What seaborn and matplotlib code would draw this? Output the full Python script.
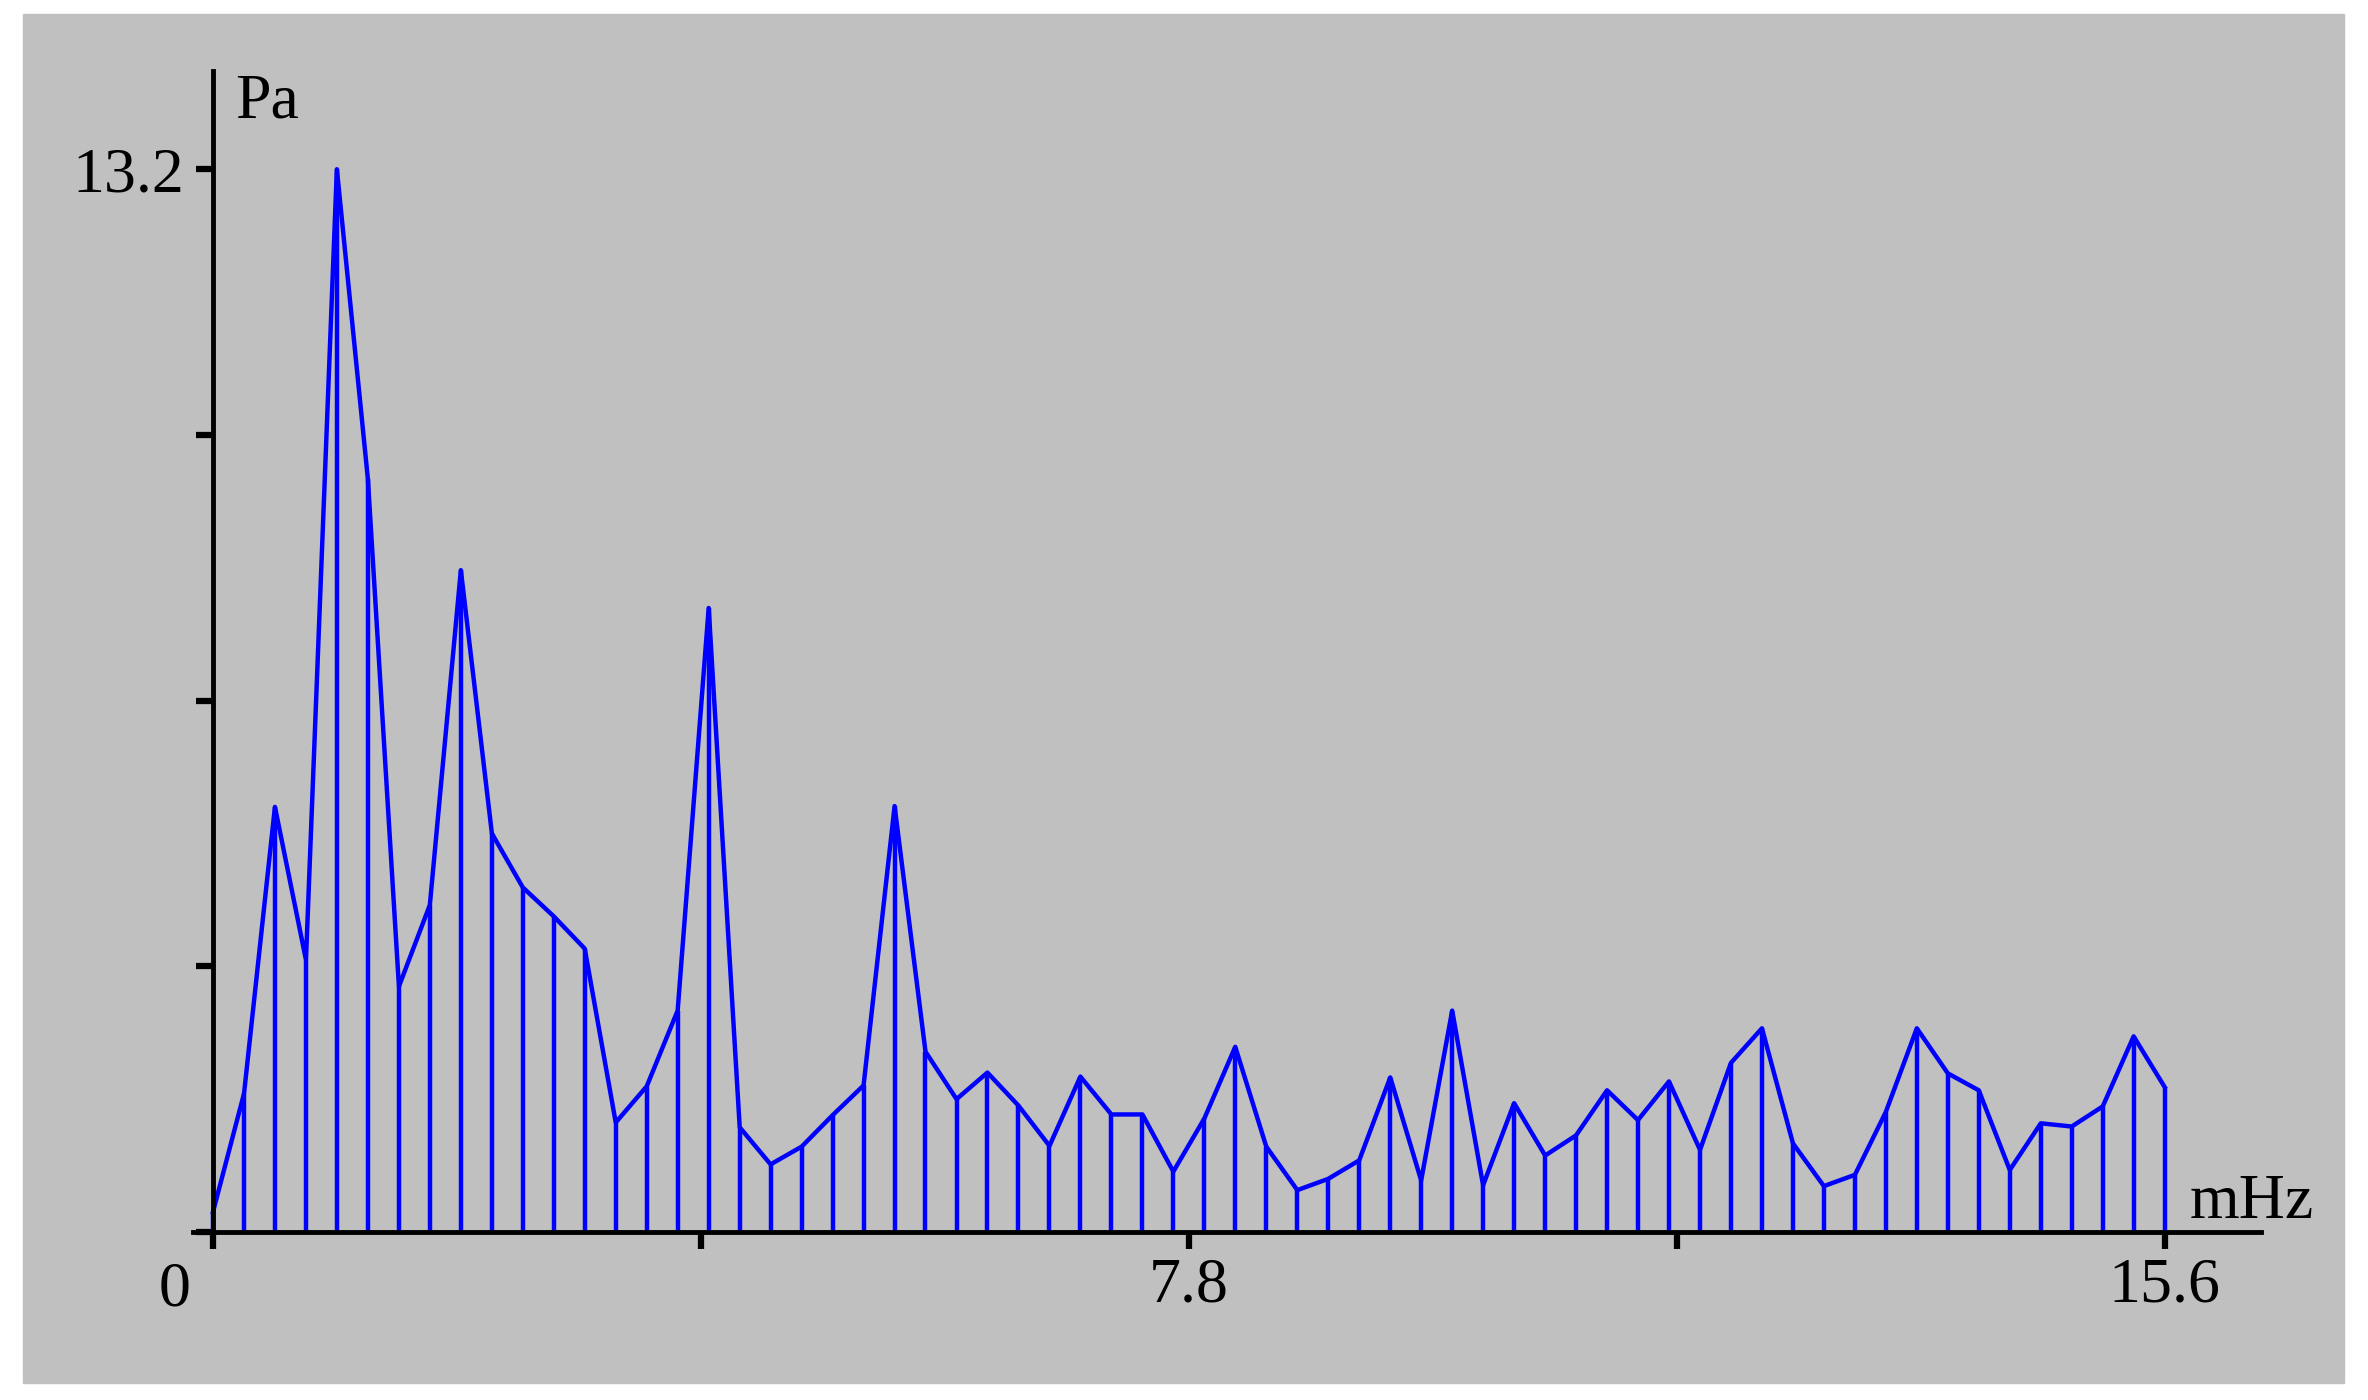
import matplotlib
matplotlib.use("Agg")
import matplotlib.pyplot as plt
from matplotlib.patches import Rectangle
import seaborn as sns


freq = [
    0.000, 0.248, 0.495, 0.743, 0.990, 1.238, 1.486, 1.733,
    1.981, 2.229, 2.476, 2.724, 2.971, 3.219, 3.467, 3.714,
    3.962, 4.210, 4.457, 4.705, 4.952, 5.200, 5.448, 5.695,
    5.943, 6.190, 6.438, 6.686, 6.933, 7.181, 7.429, 7.676,
    7.924, 8.171, 8.419, 8.667, 8.914, 9.162, 9.410, 9.657,
    9.905, 10.152, 10.400, 10.648, 10.895, 11.143, 11.390, 11.638,
    11.886, 12.133, 12.381, 12.629, 12.876, 13.124, 13.371, 13.619,
    13.867, 14.114, 14.362, 14.610, 14.857, 15.105, 15.352, 15.600,
]
amplitude = [
    0.25, 1.72, 5.28, 3.38, 13.20, 9.35, 3.05, 4.06,
    8.22, 4.95, 4.28, 3.92, 3.52, 1.36, 1.81, 2.75,
    7.75, 1.30, 0.84, 1.06, 1.45, 1.82, 5.29, 2.24,
    1.65, 1.98, 1.57, 1.07, 1.93, 1.46, 1.46, 0.75,
    1.41, 2.30, 1.06, 0.52, 0.66, 0.89, 1.92, 0.64,
    2.75, 0.58, 1.60, 0.95, 1.20, 1.76, 1.39, 1.87,
    1.02, 2.10, 2.53, 1.10, 0.57, 0.71, 1.49, 2.53,
    1.97, 1.76, 0.77, 1.35, 1.31, 1.56, 2.43, 1.80,
]

x_ticks = [0, 3.9, 7.8, 11.7, 15.6]
x_labels = ["", "", "7.8", "", "15.6"]
y_ticks = [0, 3.3, 6.6, 9.9, 13.2]
y_labels = ["", "", "", "", "13.2"]

plt.rcParams["font.family"] = ["Liberation Serif", "DejaVu Serif"]

W, H = 2368, 1400
fig = plt.figure(figsize=(W / 100, H / 100), dpi=100)
fig.patch.set_facecolor("white")

# fundo cinza com margem branca
fig.patches.append(Rectangle((23 / W, 17 / H), (2344 - 23) / W, (1386 - 17) / H,
                             transform=fig.transFigure, color="#c0c0c0", zorder=-10))

ax = fig.add_axes([193 / W, 168 / H, (2261 - 193) / W, (1329 - 168) / H])
ax.set_facecolor("none")
ax.set_zorder(5)

sns.lineplot(x=freq, y=amplitude, color="#0000ff", linewidth=3.2, ax=ax)
ax.vlines(freq, 0, amplitude, color="#0000ff", linewidth=3.2)

ax.set_xlim(-0.16, 16.37)
ax.set_ylim(0, 14.42)

for s in ["top", "right"]:
    ax.spines[s].set_visible(False)
ax.spines["left"].set_position(("data", 0))
ax.spines["bottom"].set_position(("data", 0))
for s in ["left", "bottom"]:
    ax.spines[s].set_linewidth(3.5)
    ax.spines[s].set_color("black")

ax.set_xticks(x_ticks)
ax.set_xticklabels(x_labels)
ax.set_yticks(y_ticks)
ax.set_yticklabels(y_labels)
ax.tick_params(axis="both", direction="out", length=12, width=4.5,
               labelsize=46, colors="black")
ax.tick_params(axis="x", pad=6)
ax.tick_params(axis="y", pad=9)

ax.annotate("0", xy=(0, 0), xytext=(-28, -21), textcoords="offset points",
            ha="center", va="top", fontsize=46)
ax.text(0.18, 13.84, "Pa", fontsize=46, va="baseline", ha="left")
ax.text(15.80, 0.17, "mHz", fontsize=46, va="baseline", ha="left")

ax.set_xlabel("")
ax.set_ylabel("")

plt.savefig("out.png", dpi=100)
